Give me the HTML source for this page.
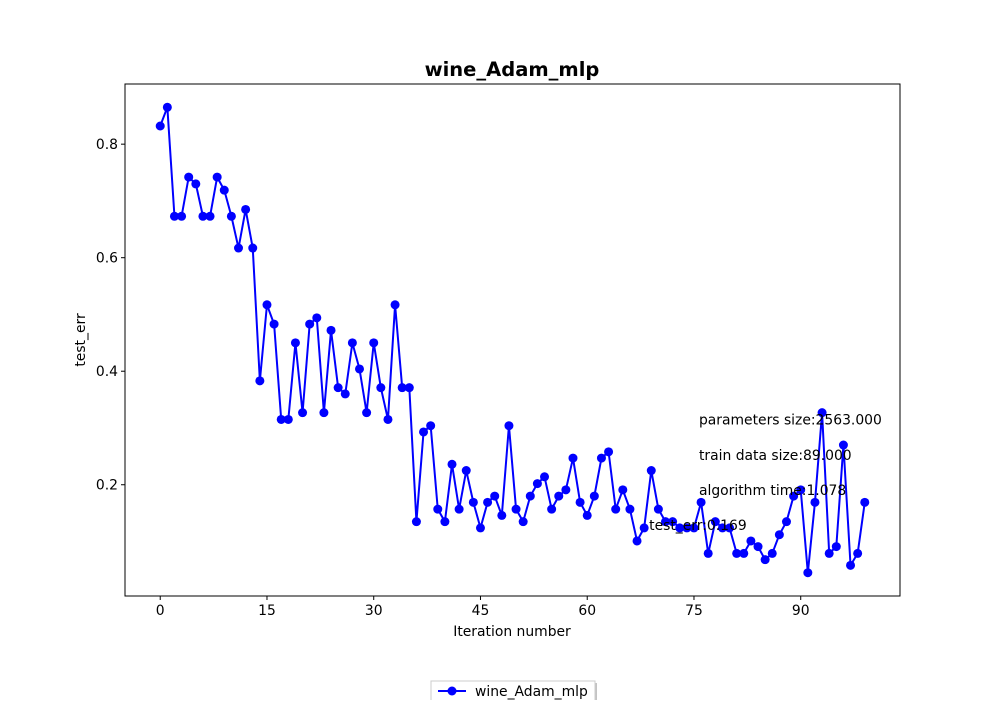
<!DOCTYPE html>
<html><head><meta charset="utf-8"><style>
body{margin:0;background:#fff;}
svg text{font-family:"DejaVu Sans","Liberation Sans",sans-serif;}
</style></head><body>
<svg id="chart" width="1000" height="700" xmlns="http://www.w3.org/2000/svg">
<rect width="1000" height="700" fill="#fff"/>
<text x="512" y="76" text-anchor="middle" font-size="19.5" font-weight="bold">wine_Adam_mlp</text>
<g id="plot"></g>
<text x="512" y="636" text-anchor="middle" font-size="13.9">Iteration number</text>
<text transform="translate(85,340) rotate(-90)" text-anchor="middle" font-size="13.9">test_err</text>
<g>
<rect x="433" y="683" width="164" height="24" fill="#888" opacity="0.5"/>
<rect x="431" y="681" width="164" height="24" fill="#fff" stroke="#ccc"/>
<line x1="438" y1="691" x2="466" y2="691" stroke="#0000ff" stroke-width="2"/>
<circle cx="452" cy="691" r="4.5" fill="#0000ff"/>
<text x="475" y="696" font-size="13.9">wine_Adam_mlp</text>
</g>
</svg>
<script>
const iterations=[...Array(100).keys()];
const testErr=[0.832,0.865,0.673,0.673,0.742,0.730,0.673,0.673,0.742,0.719,
0.673,0.617,0.685,0.617,0.383,0.517,0.483,0.315,0.315,0.450,
0.327,0.483,0.494,0.327,0.472,0.371,0.360,0.450,0.404,0.327,
0.450,0.371,0.315,0.517,0.371,0.371,0.135,0.293,0.304,0.157,
0.135,0.236,0.157,0.225,0.169,0.124,0.169,0.180,0.146,0.304,
0.157,0.135,0.180,0.202,0.214,0.157,0.180,0.191,0.247,0.169,
0.146,0.180,0.247,0.258,0.157,0.191,0.157,0.101,0.124,0.225,
0.157,0.135,0.135,0.124,0.124,0.124,0.169,0.079,0.135,0.124,
0.124,0.079,0.079,0.101,0.091,0.068,0.079,0.112,0.135,0.180,
0.191,0.045,0.169,0.327,0.079,0.091,0.270,0.058,0.079,0.169];
const xTicks=[0,15,30,45,60,75,90];
const yTicks=[0.2,0.4,0.6,0.8];
const annotations=["parameters size:2563.000","train data size:89.000","algorithm time:1.078","test_err:0.169"];
const L=125,R=900,T=84,B=596;
const xmin=-4.95,xmax=103.95,ymin=0.004,ymax=0.906;
const sx=v=>L+(v-xmin)/(xmax-xmin)*(R-L);
const sy=v=>B-(v-ymin)/(ymax-ymin)*(B-T);
const NS="http://www.w3.org/2000/svg";
const g=document.getElementById('plot');
function mk(t,a){const e=document.createElementNS(NS,t);for(const k in a)e.setAttribute(k,a[k]);g.appendChild(e);return e;}
const frame=mk('rect',{x:L,y:T,width:R-L,height:B-T,fill:'none',stroke:'#000','stroke-width':1});


xTicks.forEach(t=>{const x=sx(t);
const l=mk('line',{x1:x,x2:x,y1:B,y2:B+4,stroke:'#000'});


const tx=mk('text',{x:x,y:B+19,'text-anchor':'middle','font-size':13.9});tx.textContent=t;

});
yTicks.forEach(t=>{const y=sy(t);
const l=mk('line',{x1:L-4,x2:L,y1:y,y2:y,stroke:'#000'});


const tx=mk('text',{x:L-7,y:y+5,'text-anchor':'end','font-size':13.9});tx.textContent=t.toFixed(1);

});
const pts=testErr.map((v,i)=>sx(iterations[i])+','+sy(v)).join(' ');
const pl=mk('polyline',{points:pts,fill:'none',stroke:'#0000ff','stroke-width':2});


testErr.forEach((v,i)=>{const c=mk('circle',{cx:sx(iterations[i]),cy:sy(v),r:4.5,fill:'#0000ff'});

});
const annX=[75.7,75.7,75.7,68.7],annY=[0.306,0.244,0.182,0.120];
annotations.forEach((s,i)=>{const tx=mk('text',{x:sx(annX[i]),y:sy(annY[i]),'font-size':13.9});tx.textContent=s;

});
</script>
</body></html>
